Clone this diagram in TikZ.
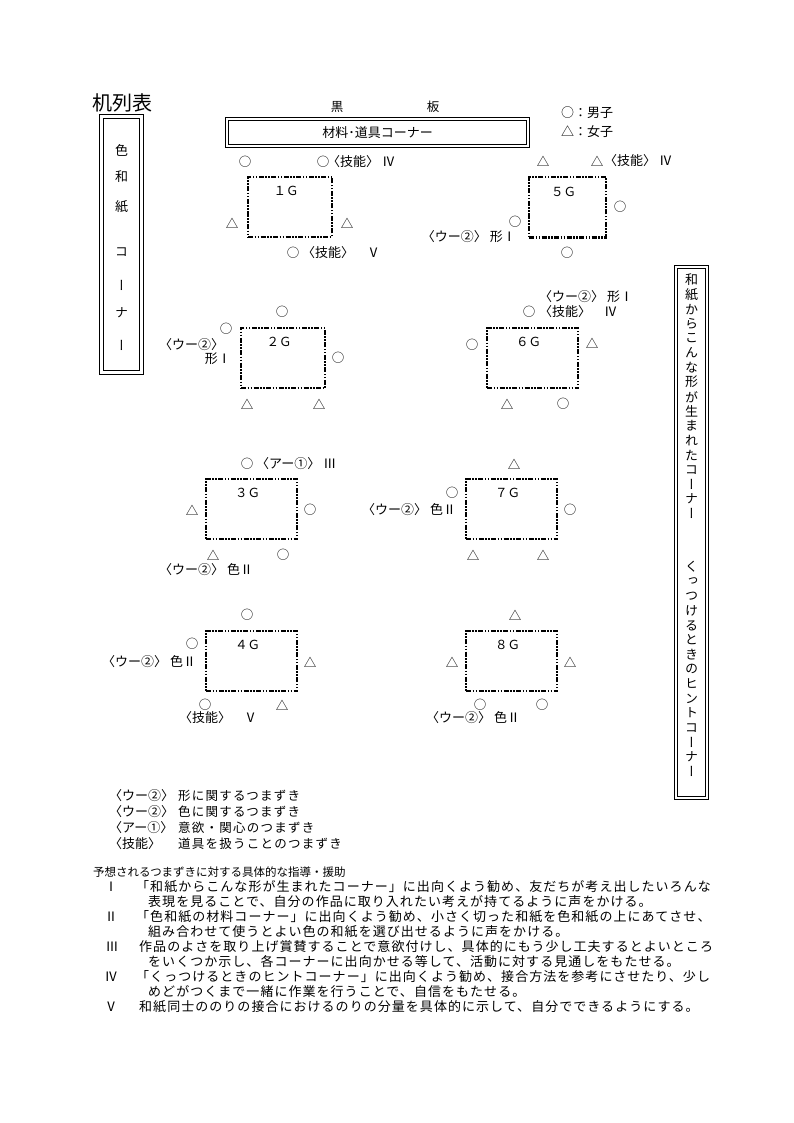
\documentclass[tikz,border=0pt]{standalone}
\usepackage{fontspec}
\setmainfont{Noto Sans CJK JP}
\newfontfamily\jp{Noto Sans CJK JP}
\newfontfamily\jpv[RawFeature=+vert]{Noto Sans CJK JP}
\newfontfamily\jpsp[LetterSpace=8]{Noto Sans CJK JP}
\newfontfamily\jpls[LetterSpace=10]{Noto Sans CJK JP}
\usetikzlibrary{positioning}

\begin{document}
\begin{tikzpicture}[x=1pt, y=-1pt,
        lbl/.style={font=\jp\fontsize{13}{15}\selectfont, inner sep=0pt, anchor=west},
        seat/.style={font=\jp\fontsize{12.5}{15}\selectfont, inner sep=0pt},
        tate/.style={font=\jpv\fontsize{13}{15}\selectfont, inner sep=0pt},
        dbox/.style={draw, line width=0.8pt, double, double distance=2pt, inner sep=0pt, font=\jp\fontsize{13}{15}\selectfont},
        tbl/.style={draw, line width=2pt, dash pattern=on 5pt off 1.5pt on 1.5pt off 1.5pt on 1.5pt off 1.5pt, minimum height=60pt, inner sep=0pt},
        bodyline/.style={font=\jpsp\fontsize{13}{15}\selectfont, inner sep=0pt, anchor=west},
        num/.style={font=\jp\fontsize{13}{15}\selectfont, inner sep=0pt}]
    \fill[white] (0,0) rectangle (794,1123);
    \useasboundingbox (0,0) rectangle (794,1123);

    \node[font=\jp\fontsize{20}{20}\selectfont, inner sep=0pt, anchor=west] (title) at (92,103) {机列表};
    \node[seat] (kuro) at (337,107) {黒};
    \node[seat] (ban) at (433,107) {板};
    \node[dbox, minimum width=301pt, minimum height=27pt] (corner) at (377.5,132.5) {材料･道具コーナー};
    \node[lbl] (boykey) at (561,113) {○：男子};
    \node[lbl] (girlkey) at (561,132) {△：女子};

    \node[dbox, double distance=3pt, minimum width=40pt, minimum height=256pt] (iroL) at (121.5,244.5) {};
    \foreach \c/\y [count=\i] in {色/150,和/177,紙/207,コ/252,ー/285,ナ/313,ー/345}
        \node[tate] (lc\i) at (121.5,\y) {\c};

    \node[dbox, minimum width=31pt, minimum height=531pt] (wasiR) at (691.5,532.5) {};
    \foreach \c [count=\i] in {和,紙,か,ら,こ,ん,な,形,が,生,ま,れ,た,コ,ー,ナ,ー}
        \node[tate] (ra\i) at (691.5,265.4+14.6*\i) {\c};
    \foreach \c [count=\i] in {く,っ,つ,け,る,と,き,の,ヒ,ン,ト,コ,ー,ナ,ー}
        \node[tate] (rb\i) at (691.5,552.4+14.6*\i) {\c};

    \node[tbl, minimum width=84pt] (g1) at (290,207) {};
    \node[tbl, minimum width=77pt] (g5) at (567.5,207.5) {};
    \node[tbl, minimum width=84pt] (g2) at (283,358) {};
    \node[tbl, minimum width=91pt] (g6) at (532.5,358) {};
    \node[tbl, minimum width=91pt] (g3) at (251.5,509) {};
    \node[tbl, minimum width=91pt] (g7) at (511.5,509) {};
    \node[tbl, minimum width=91pt] (g4) at (251.5,661) {};
    \node[tbl, minimum width=91pt] (g8) at (511.5,661) {};
    \foreach \g/\t in {1/１Ｇ,5/５Ｇ,2/２Ｇ,6/６Ｇ,3/３Ｇ,7/７Ｇ,4/４Ｇ,8/８Ｇ}
        \node[seat] (g\g name) at ([xshift=-4pt,yshift=-15pt]g\g.north) {\t};

    \foreach \s/\x/\y [count=\i] in {○/245/162, ○/323/162, △/232/223, △/347/223, ○/293/253,
            △/543/161, △/597/161, ○/620/207, ○/515/222, ○/567/253,
            ○/282/312, ○/226/329, ○/338/358, △/247/404, △/319/404,
            ○/529/312, ○/472/345, △/592/343, △/507/404, ○/563/404,
            ○/247/464, △/192/510, ○/310/510, △/213/555, ○/283/555,
            △/514/464, ○/452/493, ○/570/510, △/473/555, △/543/555,
            ○/247/615, ○/192/644, △/310/662, ○/205/705, △/282/705,
            △/515/615, △/452/662, △/570/662, ○/480/705, ○/542/705}
        \node[seat] (s\i) at (\x,\y) {\s};

    \node[lbl] (n1a) at (327,162) {〈技能〉 Ⅳ};
    \node[lbl] (n1b) at (302,253) {〈技能〉　Ⅴ};
    \node[lbl] (n5a) at (604,161) {〈技能〉 Ⅳ};
    \node[lbl, anchor=east] (n5b) at (516,237) {〈ウー②〉 形Ⅰ};
    \node[lbl] (n2a) at (159,345) {〈ウー②〉};
    \node[lbl, anchor=east] (n2b) at (231,359) {形Ⅰ};
    \node[lbl] (n6a) at (539,297) {〈ウー②〉 形Ⅰ};
    \node[lbl] (n6b) at (539,312) {〈技能〉　Ⅳ};
    \node[lbl] (n3a) at (256,464) {〈アー①〉 Ⅲ};
    \node[lbl] (n3b) at (159,570) {〈ウー②〉 色Ⅱ};
    \node[lbl] (n7) at (362,510) {〈ウー②〉 色Ⅱ};
    \node[lbl] (n4a) at (102,662) {〈ウー②〉 色Ⅱ};
    \node[lbl] (n4b) at (179,718) {〈技能〉　Ⅴ};
    \node[lbl] (n8) at (426,718) {〈ウー②〉 色Ⅱ};

    \foreach \k/\t/\y in {〈ウー②〉/形に関するつまずき/796, 〈ウー②〉/色に関するつまずき/812,
            〈アー①〉/意欲・関心のつまずき/828, 〈技能〉/道具を扱うことのつまずき/844} {
        \node[lbl] (key\y) at (109,\y) {\k};
        \node[lbl, font=\jpls\fontsize{12.5}{15}\selectfont] (txt\y) at (178,\y) {\t};
    }

    \node[lbl, font=\jp\fontsize{11.5}{14}\selectfont] (head) at (93,872) {予想されるつまずきに対する具体的な指導・援助};
    \node[num] (r1) at (111,887) {Ⅰ};
    \node[bodyline] (t1a) at (136,887) {「和紙からこんな形が生まれたコーナー」に出向くよう勧め、友だちが考え出したいろんな};
    \node[bodyline] (t1b) at (148,902) {表現を見ることで、自分の作品に取り入れたい考えが持てるように声をかける。};
    \node[num] (r2) at (111,917) {Ⅱ};
    \node[bodyline] (t2a) at (136,917) {「色和紙の材料コーナー」に出向くよう勧め、小さく切った和紙を色和紙の上にあてさせ、};
    \node[bodyline] (t2b) at (148,932) {組み合わせて使うとよい色の和紙を選び出せるように声をかける。};
    \node[num] (r3) at (112,947) {Ⅲ};
    \node[bodyline] (t3a) at (139,947) {作品のよさを取り上げ賞賛することで意欲付けし、具体的にもう少し工夫するとよいところ};
    \node[bodyline] (t3b) at (148,962) {をいくつか示し、各コーナーに出向かせる等して、活動に対する見通しをもたせる。};
    \node[num] (r4) at (111,977) {Ⅳ};
    \node[bodyline] (t4a) at (136,977) {「くっつけるときのヒントコーナー」に出向くよう勧め、接合方法を参考にさせたり、少し};
    \node[bodyline] (t4b) at (148,992) {めどがつくまで一緒に作業を行うことで、自信をもたせる。};
    \node[num] (r5) at (111,1007) {Ⅴ};
    \node[bodyline] (t5) at (139,1007) {和紙同士ののりの接合におけるのりの分量を具体的に示して、自分でできるようにする。};
\end{tikzpicture}
\end{document}
